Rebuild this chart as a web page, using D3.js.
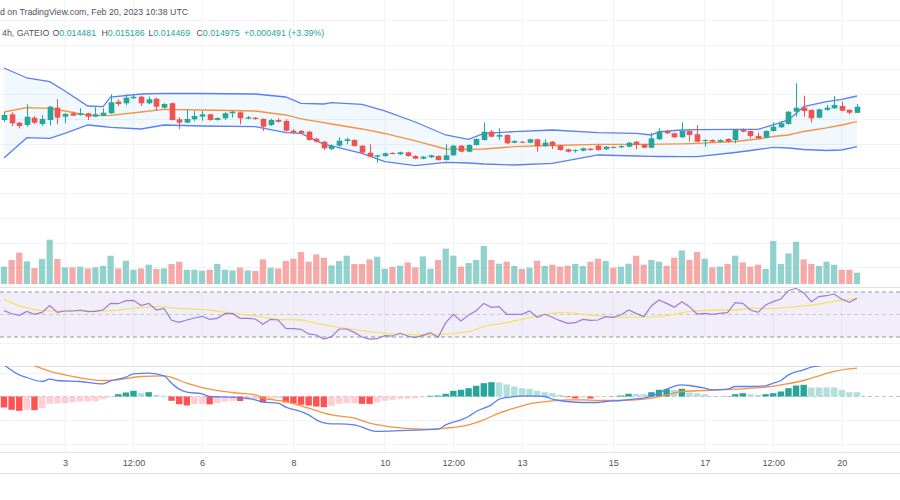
<!DOCTYPE html>
<html><head><meta charset="utf-8">
<script src="https://cdn.jsdelivr.net/npm/d3@7"></script>
<style>
body{margin:0;background:#fff;}
svg{display:block;font-family:"Liberation Sans",Arial,sans-serif;}
</style></head>
<body><svg id="c" width="900" height="500"></svg>
<script>
// ---------- DATA (4h candles, Feb 1 16:00 .. Feb 20 08:00, 2023) ----------
const openP=[0.013904,0.014365,0.013686,0.0135,0.014089,0.013581,0.013904,0.014898,0.01417,0.014445,0.014308,0.014445,0.01417,0.014251,0.014445,0.015382,0.015253,0.015657,0.015787,0.015253,0.015625,0.014898,0.015253,0.01396,0.013686,0.01396,0.01417,0.014365,0.013904,0.01404,0.014445,0.014526,0.014009,0.014089,0.013985,0.0135,0.013904,0.013823,0.013039,0.013015,0.012958,0.012392,0.01215,0.011561,0.011828,0.012207,0.012288,0.011828,0.011262,0.010939,0.010995,0.011237,0.011132,0.011294,0.010995,0.010777,0.01089,0.010995,0.010672,0.011052,0.011828,0.011343,0.011884,0.012288,0.012958,0.012554,0.012692,0.012069,0.01215,0.012069,0.012344,0.011803,0.01215,0.011828,0.011537,0.011399,0.011423,0.011585,0.011828,0.011536,0.011722,0.011698,0.011747,0.01215,0.011939,0.011666,0.012344,0.013015,0.012829,0.012506,0.013015,0.012748,0.012231,0.012288,0.01215,0.012368,0.012288,0.013096,0.013015,0.01261,0.012473,0.013015,0.013314,0.013581,0.014575,0.014897,0.01472,0.014089,0.01472,0.014849,0.015035,0.01472,0.014481];
const highP=[0.014526,0.014526,0.013742,0.015173,0.014227,0.014284,0.015035,0.015601,0.01447,0.014575,0.014849,0.014494,0.01493,0.014849,0.015981,0.015577,0.015981,0.015981,0.015867,0.015787,0.015706,0.015253,0.015334,0.014122,0.014768,0.01463,0.01463,0.014413,0.014122,0.014526,0.01463,0.014575,0.014227,0.014146,0.01404,0.014009,0.01404,0.01396,0.013152,0.013096,0.013039,0.012473,0.012207,0.011939,0.012506,0.012473,0.012344,0.011884,0.011939,0.011076,0.011262,0.011294,0.011343,0.011343,0.011052,0.010995,0.0111,0.011052,0.011939,0.011884,0.011884,0.011939,0.012425,0.013717,0.013096,0.013233,0.012748,0.012263,0.012207,0.012392,0.012392,0.012344,0.012207,0.011884,0.011585,0.011536,0.011666,0.011641,0.011964,0.011803,0.011779,0.011859,0.012126,0.012207,0.011988,0.012877,0.013233,0.013071,0.012877,0.013717,0.013071,0.0135,0.012344,0.012344,0.012344,0.012425,0.013152,0.013233,0.013071,0.012877,0.013071,0.013717,0.013823,0.01463,0.016869,0.015867,0.014768,0.014817,0.015116,0.015843,0.015382,0.014768,0.015186];
const lowP=[0.013767,0.01342,0.013233,0.013363,0.013581,0.01342,0.013444,0.013581,0.013637,0.014227,0.014251,0.013904,0.014146,0.014227,0.014389,0.015035,0.015116,0.015601,0.015035,0.015173,0.01463,0.014817,0.013864,0.013177,0.013637,0.013823,0.013847,0.013847,0.013847,0.013904,0.014089,0.013556,0.01396,0.013928,0.013015,0.01342,0.013686,0.012958,0.012829,0.012772,0.012231,0.012102,0.01148,0.01148,0.011747,0.011939,0.011747,0.011214,0.01089,0.010453,0.010914,0.011132,0.011076,0.010939,0.010728,0.010728,0.010833,0.010616,0.010616,0.010995,0.011294,0.011294,0.011828,0.012231,0.012506,0.012288,0.011964,0.01202,0.01202,0.01202,0.011343,0.011747,0.011561,0.011423,0.011294,0.011262,0.011374,0.011423,0.011423,0.01148,0.011617,0.011641,0.011698,0.011536,0.011617,0.011617,0.012288,0.012772,0.012449,0.012449,0.01215,0.012102,0.011747,0.012102,0.012102,0.012069,0.01202,0.012909,0.012425,0.012368,0.012425,0.012958,0.013257,0.013524,0.01417,0.01417,0.013686,0.01404,0.014655,0.014792,0.014606,0.014365,0.014469];
const closeP=[0.014308,0.013637,0.01342,0.01417,0.013686,0.013985,0.014979,0.014089,0.014389,0.014251,0.014445,0.01417,0.014365,0.014494,0.015334,0.015196,0.015706,0.015787,0.015253,0.015577,0.014979,0.015196,0.013904,0.013686,0.013985,0.014227,0.014365,0.013904,0.014065,0.014445,0.014575,0.01404,0.014122,0.013985,0.013363,0.013904,0.013767,0.013039,0.012877,0.012829,0.012288,0.01215,0.011617,0.011828,0.012231,0.012344,0.011803,0.011262,0.010939,0.011052,0.011213,0.01118,0.011294,0.010995,0.010777,0.010939,0.011052,0.010672,0.011052,0.011828,0.011343,0.011884,0.012368,0.012958,0.012554,0.012692,0.01202,0.012207,0.012069,0.012344,0.011803,0.012069,0.011828,0.01148,0.011343,0.01148,0.011617,0.01148,0.01148,0.011747,0.011666,0.011803,0.012069,0.011884,0.011666,0.012425,0.012958,0.012829,0.012506,0.013015,0.012692,0.01215,0.012288,0.01215,0.012288,0.01215,0.013096,0.012958,0.01261,0.012425,0.013015,0.013362,0.013637,0.014575,0.014898,0.01463,0.01404,0.014768,0.014897,0.015116,0.014655,0.014494,0.014975];
const volume=[173,240,313,226,160,250,443,250,166,166,173,156,166,180,283,156,233,143,156,193,150,156,200,223,143,143,133,143,200,143,136,163,136,130,246,163,156,230,253,320,223,296,263,186,230,283,200,200,246,273,153,170,183,216,166,276,153,240,353,283,173,210,240,380,240,203,223,180,150,163,233,180,193,173,183,200,180,223,253,230,163,173,203,283,193,240,223,183,263,336,240,320,253,166,173,200,283,216,173,193,150,430,200,306,423,246,200,180,223,193,143,143,113];

// Bollinger Bands (20,2) read at sampled candles
const bbIdx=[0,3,6,8,11,13,14,18,21,26,33,37,39,42,43,47,50,54,58,61,63,67,72,78,83,85,86,89,91,96,99,101,103,105,108,110,112];
const bbUpper=[0.018106,0.017298,0.016999,0.016247,0.015035,0.014979,0.015762,0.016005,0.016061,0.016045,0.016005,0.015762,0.015253,0.015197,0.015302,0.015173,0.014631,0.013742,0.012692,0.012345,0.012829,0.012959,0.013096,0.012878,0.012829,0.012692,0.012959,0.013096,0.01312,0.013153,0.013153,0.0135,0.013904,0.014979,0.015383,0.015577,0.015843];
const bbBasis=[0.01455,0.014898,0.014849,0.014631,0.014292,0.014251,0.014284,0.01455,0.014769,0.014712,0.014631,0.014308,0.013985,0.013686,0.013581,0.013177,0.012813,0.012207,0.011561,0.011537,0.011561,0.011747,0.011844,0.01194,0.01194,0.01194,0.011949,0.011981,0.012021,0.012167,0.012369,0.012571,0.012692,0.012975,0.013258,0.0135,0.013767];
const bbLower=[0.010834,0.012474,0.012425,0.012829,0.0135,0.013379,0.013314,0.013177,0.0135,0.013419,0.013363,0.012878,0.012829,0.01194,0.011803,0.011213,0.010535,0.010211,0.010486,0.01043,0.010349,0.010268,0.010405,0.011076,0.010995,0.010971,0.010955,0.010939,0.010939,0.011278,0.01152,0.011698,0.011642,0.01152,0.01144,0.01148,0.011747];

// RSI (14) per candle and its MA at sampled candles
const rsi=[53.4,50.7,49.3,52.8,50.2,51.9,57.9,51.9,53.1,53.1,54.0,52.5,52.8,54.0,59.9,59.6,62.3,62.6,57.9,59.9,54.0,55.5,44.8,43.0,45.1,46.9,48.4,45.7,46.6,50.7,51.0,46.6,46.6,46.0,41.3,45.7,45.1,37.7,37.4,36.8,32.7,31.8,28.2,30.3,37.1,37.1,34.1,30.0,28.2,28.5,31.2,30.9,33.3,30.9,29.4,31.5,33.9,29.7,42.7,50.2,44.2,49.6,53.4,59.9,56.4,57.0,50.2,50.2,50.2,53.1,47.5,50.2,47.5,44.5,42.2,42.7,45.7,44.8,45.1,48.1,47.5,49.6,54.0,51.0,48.1,57.6,62.9,59.9,56.4,61.4,57.0,50.4,51.0,50.2,51.0,51.6,60.5,59.9,54.0,51.9,58.4,61.4,63.8,71.2,73.3,69.4,61.4,65.9,66.7,68.2,63.5,60.8,64.4];
const rsiMaIdx=[0,1,2,4,5,8,12,14,17,20,23,27,30,33,36,39,41,44,47,50,53,56,59,61,63,66,68,71,73,76,78,81,86,88,90,94,96,98,101,103,106,108,110,112];
const rsiMa=[63.5,60.5,57.6,54.6,53.4,53.1,53.1,53.4,55.5,57.0,55.5,54.0,51.0,48.7,45.7,45.1,42.2,38.6,35.6,33.3,32.4,31.8,33.3,34.7,39.2,42.7,45.7,50.2,51.6,50.4,48.7,47.5,48.1,50.2,52.5,54.0,54.0,55.5,55.5,56.4,58.4,60.5,62.9,64.4];

// MACD (12,26,9), values in units of 1e-6
const macdIdx=[0,2,3,5,6,7,10,13,14,16,17,19,21,22,23,24,26,27,30,33,34,36,37,39,40,41,43,44,46,47,49,52,55,57,58,60,61,62,64,65,66,69,71,72,74,76,78,79,81,83,84,86,87,89,90,92,93,95,96,98,100,101,102,103,105,106,107,108,110,112];
const macdLine=[134,91.8,80.5,63.5,73.4,67.8,63.5,53.7,66.4,81.9,96,98.8,87.5,56.5,31,18.4,11.3,0,-2.8,-14.1,-24,-28.2,-45.2,-63.5,-77.7,-98.8,-115.8,-115.8,-120,-130,-148,-145,-141,-138,-120,-98.8,-84.7,-63.5,-35.3,-11.3,-4.2,2.8,0,-11.3,-21.2,-25.4,-25.4,-21.2,-16.9,-9.9,-7.1,14.1,31,49.4,46.6,35.3,28.2,31,42.4,42.4,45.2,56.5,67.8,91.8,113,124,130,135.5,141,138];
const sigIdx=[0,2,4,6,8,13,15,18,21,24,27,30,33,34,37,40,43,46,48,51,54,56,58,61,63,65,67,69,72,74,76,78,80,83,85,87,89,92,94,96,98,100,102,105,107,109,111,112];
const signalLine=[170,148,130,106,91.8,67.8,70.6,84.7,87.5,56.5,31,16.9,7.1,-7.1,-21.2,-49.4,-77.7,-91.8,-113,-130,-137,-138,-134,-120,-98.8,-70.6,-49.4,-31,-18.4,-14.1,-14.1,-16.9,-16.9,-14.1,-7.1,7.1,21.2,25.4,28.2,31,35.3,39.5,49.4,67.8,87.5,106,117,120];
const macdHist=[-46.6,-56.4,-60.6,-56.4,-57.7,-49.6,-31.0,-29.7,-28.4,-24.2,-21.2,-20.8,-20.4,-11.4,-4.2,9.8,17.0,24.2,14.0,18.2,7.2,3.0,-18.2,-32.6,-38.2,-32.6,-32.2,-33.1,-28.4,-21.2,-18.2,-19.1,-14.0,-11.4,-24.2,-11.4,-7.2,-25.4,-28.4,-35.2,-38.2,-42.4,-45.4,-39.4,-31.0,-28.4,-28.0,-31.0,-31.4,-25.4,-18.2,-14.0,-9.8,-8.5,-7.2,-3.0,3.0,4.2,11.4,24.2,28.4,35.2,45.4,56.4,60.6,59.4,50.9,42.4,35.2,32.6,24.2,18.2,14.0,7.2,-3.0,-8.5,-4.2,-8.5,-3.0,-1.3,0.8,4.2,11.4,11.0,9.8,18.2,28.4,31.0,28.4,32.6,17.0,14.0,9.8,3.0,1.3,-1.3,9.8,14.0,9.8,7.2,9.8,14.0,21.2,35.2,46.6,49.6,38.2,38.2,38.2,38.2,28.4,18.2,18.2];

// time axis
const tickIdx=[8,17,26,38,50,59,68,80,92,101,110];
const tickLabels=["3","12:00","6","8","10","12:00","13","15","17","12:00","20"];

// header
const titleText="d on TradingView.com, Feb 20, 2023 10:38 UTC";
const symText="4h, GATEIO";
const ohlcLabels=["O","H","L","C"];
const ohlcValues=["0.014481","0.015186","0.014469","0.014975"];
const changeText="+0.000491 (+3.39%)";

// ---------- LAYOUT ----------
const W=900,H=500;
const pane={main:[0,287],rsi:[287,366],macd:[366,452],axis:[452,473]};
const UP="#26a69a",DN="#ef5350";
const GRID="#f0f3fa",SEP="#e0e3eb";

const svg=d3.select("#c");
const x=d3.scaleLinear().domain([0,112]).range([4,857]);
const step=x(1)-x(0);
const yP=d3.scaleLinear().domain([0.006,0.022]).range([217.8,19.8]);
const yV=d3.scaleLinear().domain([0,600]).range([284,224]);
const yR=d3.scaleLinear().domain([30,70]).range([337,292]);
const yM=d3.scaleLinear().domain([-200,100]).range([443.7,372.9]);

const defs=svg.append("defs");
function clip(id,y0,y1){defs.append("clipPath").attr("id",id).append("rect").attr("x",0).attr("y",y0).attr("width",W).attr("height",y1-y0);}
clip("cMain",pane.main[0],pane.main[1]);
clip("cRsi",pane.rsi[0],pane.rsi[1]);
clip("cMacd",pane.macd[0],pane.macd[1]);

// ---------- GRID ----------
const g=svg.append("g");
g.selectAll(".vg").data(tickIdx).join("line")
 .attr("x1",d=>x(d)).attr("x2",d=>x(d)).attr("y1",0).attr("y2",pane.axis[0])
 .attr("stroke",GRID).attr("stroke-width",1);
g.selectAll(".hg").data(d3.range(0.002,0.0221,0.002)).join("line")
 .attr("x1",0).attr("x2",W).attr("y1",d=>Math.round(yP(d))+0.5).attr("y2",d=>Math.round(yP(d))+0.5)
 .attr("stroke",GRID);
g.selectAll(".mg").data([-200,-100,100]).join("line")
 .attr("x1",0).attr("x2",W).attr("y1",d=>Math.round(yM(d))+0.5).attr("y2",d=>Math.round(yM(d))+0.5)
 .attr("stroke",GRID);
g.selectAll(".rg").data([25]).join("line")
 .attr("x1",0).attr("x2",W).attr("y1",d=>Math.round(yR(d))+0.5).attr("y2",d=>Math.round(yR(d))+0.5)
 .attr("stroke",GRID);
// pane separators
g.selectAll(".sep").data([pane.rsi[0],pane.macd[0],pane.axis[0],pane.axis[1]]).join("line")
 .attr("x1",0).attr("x2",W).attr("y1",d=>d+0.5).attr("y2",d=>d+0.5).attr("stroke",SEP);

// ---------- MAIN PANE ----------
const main=svg.append("g").attr("clip-path","url(#cMain)");
const bb=bbIdx.map((d,i)=>({i:d,u:bbUpper[i],m:bbBasis[i],l:bbLower[i]}));
main.append("path").datum(bb)
 .attr("d",d3.area().x(d=>x(d.i)).y0(d=>yP(d.l)).y1(d=>yP(d.u)))
 .attr("fill","rgba(33,150,243,0.06)");
[["u","#5a7ff7"],["l","#5a7ff7"],["m","#f7923f"]].forEach(([k,c])=>{
 main.append("path").datum(bb).attr("d",d3.line().x(d=>x(d.i)).y(d=>yP(d[k])))
  .attr("fill","none").attr("stroke",c).attr("stroke-width",1.3);
});
// volume
const vw=step*0.82;
main.selectAll(".vol").data(volume).join("rect")
 .attr("x",(d,i)=>x(i)-vw/2).attr("width",vw)
 .attr("y",d=>yV(d)).attr("height",d=>yV(0)-yV(d))
 .attr("fill",(d,i)=>closeP[i]>=openP[i]?"rgba(38,166,154,0.5)":"rgba(239,83,80,0.5)");
// candles
const cw=step*0.74;
const cg=main.selectAll(".cdl").data(d3.range(openP.length)).join("g");
cg.append("line").attr("x1",i=>Math.round(x(i))+0.5).attr("x2",i=>Math.round(x(i))+0.5)
 .attr("y1",i=>yP(highP[i])).attr("y2",i=>yP(lowP[i]))
 .attr("stroke",i=>closeP[i]>=openP[i]?UP:DN).attr("stroke-width",1);
cg.append("rect").attr("x",i=>Math.round(x(i))+0.5-cw/2).attr("width",cw)
 .attr("y",i=>yP(Math.max(openP[i],closeP[i])))
 .attr("height",i=>Math.max(1,Math.abs(yP(openP[i])-yP(closeP[i]))))
 .attr("fill",i=>closeP[i]>=openP[i]?UP:DN);

// ---------- RSI PANE ----------
const rp=svg.append("g").attr("clip-path","url(#cRsi)");
rp.append("rect").attr("x",0).attr("width",W).attr("y",yR(70)).attr("height",yR(30)-yR(70))
 .attr("fill","rgba(126,87,194,0.1)");
[[70,"#9598a1"],[50,"#c9cad0"],[30,"#9598a1"]].forEach(([v,c])=>{
 rp.append("line").attr("x1",0).attr("x2",W).attr("y1",yR(v)).attr("y2",yR(v))
  .attr("stroke",c).attr("stroke-dasharray","4,3").attr("stroke-width",1);
});
rp.append("path").datum(rsiMaIdx.map((d,i)=>[d,rsiMa[i]]))
 .attr("d",d3.line().x(d=>x(d[0])).y(d=>yR(d[1])).curve(d3.curveMonotoneX))
 .attr("fill","none").attr("stroke","#f6e16a").attr("stroke-width",1.3);
rp.append("path").datum(rsi)
 .attr("d",d3.line().x((d,i)=>x(i)).y(d=>yR(d)))
 .attr("fill","none").attr("stroke","#9a7ddb").attr("stroke-width",1.2);

// ---------- MACD PANE ----------
const mp=svg.append("g").attr("clip-path","url(#cMacd)");
mp.append("line").attr("x1",0).attr("x2",W).attr("y1",yM(0)).attr("y2",yM(0))
 .attr("stroke","#c4c5ca").attr("stroke-dasharray","4,3");
const hw=step*0.84;
mp.selectAll(".hist").data(macdHist).join("rect")
 .attr("x",(d,i)=>x(i)-hw/2).attr("width",hw)
 .attr("y",d=>Math.min(yM(d),yM(0))).attr("height",d=>Math.abs(yM(d)-yM(0)))
 .attr("fill",(d,i)=>{const p=i>0?macdHist[i-1]:d;
   return d>=0?(p<d?"#26a69a":"#b2dfdb"):(p<d?"#ffcdd2":"#ff5252");});
mp.append("path").datum(sigIdx.map((d,i)=>[d,signalLine[i]]))
 .attr("d",d3.line().x(d=>x(d[0])).y(d=>yM(d[1])).curve(d3.curveMonotoneX))
 .attr("fill","none").attr("stroke","#f7923f").attr("stroke-width",1.3);
mp.append("path").datum(macdIdx.map((d,i)=>[d,macdLine[i]]))
 .attr("d",d3.line().x(d=>x(d[0])).y(d=>yM(d[1])).curve(d3.curveMonotoneX))
 .attr("fill","none").attr("stroke","#5a7ff7").attr("stroke-width",1.3);

// ---------- TIME AXIS ----------
const ax=svg.append("g").attr("transform",`translate(0,${pane.axis[0]})`)
 .call(d3.axisBottom(x).tickValues(tickIdx).tickFormat((d,i)=>tickLabels[i]).tickSize(0).tickPadding(8));
ax.select(".domain").remove();
ax.selectAll("text").attr("font-size","9px").attr("fill","#50535e")
 .attr("font-family","'Liberation Sans',Arial,sans-serif");

// ---------- HEADER ----------
svg.append("text").attr("x",0).attr("y",15).attr("font-size","8.8px").attr("fill","#50535e").text(titleText);
svg.append("text").attr("x",2).attr("y",36).attr("font-size","8.8px").attr("fill","#50535e").text(symText);
const lx=[52.5,101.5,148.5,196.5];
ohlcLabels.forEach((l,i)=>{
 const t=svg.append("text").attr("x",lx[i]).attr("y",36).attr("font-size","8.8px");
 t.append("tspan").attr("fill","#50535e").text(l);
 t.append("tspan").attr("fill",UP).text(ohlcValues[i]);
});
svg.append("text").attr("x",244).attr("y",36).attr("font-size","8.8px").attr("fill",UP).text(changeText);
</script></body></html>
